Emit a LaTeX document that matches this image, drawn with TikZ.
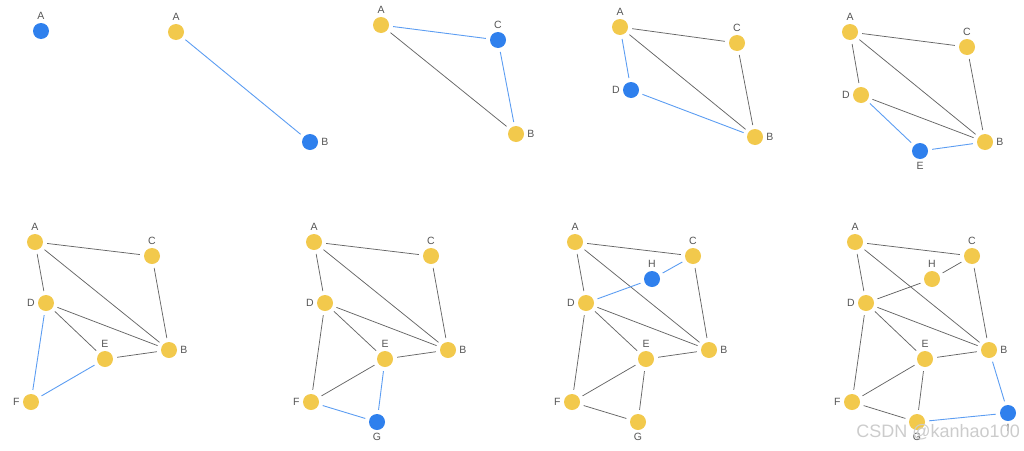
\documentclass[tikz,border=0pt]{standalone}
\usepackage{fontspec}
\setmainfont{Liberation Sans}
\definecolor{visited}{HTML}{F2C94C}
\definecolor{current}{HTML}{2F80ED}
\definecolor{newedge}{HTML}{5C9DF2}
\definecolor{oldedge}{HTML}{666666}
\definecolor{labelgray}{HTML}{555555}
\begin{document}
\begin{tikzpicture}[x=1pt,y=-1pt,
  vis/.style={circle,fill=visited,minimum size=16pt,inner sep=0pt},
  cur/.style={circle,fill=current,minimum size=16pt,inner sep=0pt},
  old/.style={draw=oldedge,line width=0.75pt,shorten <=4pt,shorten >=4pt},
  new/.style={draw=newedge,line width=0.9pt,shorten <=4pt,shorten >=4pt},
  every label/.style={text=labelgray,font=\fontsize{10.5}{11}\selectfont,inner sep=0.5pt},
  label distance=2.5pt]
\useasboundingbox (0,0) rectangle (1024,450);

\node[cur,label=above:A] (a1) at (41,31) {};

\begin{scope}[shift={(176,32)}]
\node[vis,label=above:A] (a2) at (0,0) {};
\node[cur,label=right:B] (b2) at (134,110) {};
\draw[new] (a2) -- (b2);
\end{scope}

\begin{scope}[shift={(381,25)}]
\node[vis,label=above:A] (a3) at (0,0) {};
\node[cur,label=above:C] (c3) at (117,15) {};
\node[vis,label=right:B] (b3) at (135,109) {};
\draw[old] (a3) -- (b3);
\draw[new] (a3) -- (c3);
\draw[new] (c3) -- (b3);
\end{scope}

\begin{scope}[shift={(620,27)}]
\node[vis,label=above:A] (a4) at (0,0) {};
\node[vis,label=above:C] (c4) at (117,16) {};
\node[cur,label=left:D] (d4) at (11,63) {};
\node[vis,label=right:B] (b4) at (135,110) {};
\draw[old] (a4) -- (c4);
\draw[old] (a4) -- (b4);
\draw[old] (c4) -- (b4);
\draw[new] (a4) -- (d4);
\draw[new] (d4) -- (b4);
\end{scope}

\begin{scope}[shift={(850,32)}]
\node[vis,label=above:A] (a5) at (0,0) {};
\node[vis,label=above:C] (c5) at (117,15) {};
\node[vis,label=left:D] (d5) at (11,63) {};
\node[vis,label=right:B] (b5) at (135,110) {};
\node[cur,label=below:E] (e5) at (70,119) {};
\draw[old] (a5) -- (c5);
\draw[old] (a5) -- (b5);
\draw[old] (c5) -- (b5);
\draw[old] (a5) -- (d5);
\draw[old] (d5) -- (b5);
\draw[new] (d5) -- (e5);
\draw[new] (e5) -- (b5);
\end{scope}

\begin{scope}[shift={(35,242)}]
\node[vis,label=above:A] (a6) at (0,0) {};
\node[vis,label=above:C] (c6) at (117,14) {};
\node[vis,label=left:D] (d6) at (11,61) {};
\node[vis,label=right:B] (b6) at (134,108) {};
\node[vis,label=above:E] (e6) at (70,117) {};
\node[vis,label=left:F] (f6) at (-4,160) {};
\draw[old] (a6) -- (c6);
\draw[old] (a6) -- (b6);
\draw[old] (c6) -- (b6);
\draw[old] (a6) -- (d6);
\draw[old] (d6) -- (b6);
\draw[old] (d6) -- (e6);
\draw[old] (e6) -- (b6);
\draw[new] (d6) -- (f6);
\draw[new] (e6) -- (f6);
\end{scope}

\begin{scope}[shift={(314,242)}]
\node[vis,label=above:A] (a7) at (0,0) {};
\node[vis,label=above:C] (c7) at (117,14) {};
\node[vis,label=left:D] (d7) at (11,61) {};
\node[vis,label=right:B] (b7) at (134,108) {};
\node[vis,label=above:E] (e7) at (71,117) {};
\node[vis,label=left:F] (f7) at (-3,160) {};
\node[cur,label=below:G] (g7) at (63,180) {};
\draw[old] (a7) -- (c7);
\draw[old] (a7) -- (b7);
\draw[old] (c7) -- (b7);
\draw[old] (a7) -- (d7);
\draw[old] (d7) -- (b7);
\draw[old] (d7) -- (e7);
\draw[old] (e7) -- (b7);
\draw[old] (d7) -- (f7);
\draw[old] (e7) -- (f7);
\draw[new] (f7) -- (g7);
\draw[new] (e7) -- (g7);
\end{scope}

\begin{scope}[shift={(575,242)}]
\node[vis,label=above:A] (a8) at (0,0) {};
\node[vis,label=above:C] (c8) at (118,14) {};
\node[cur,label=above:H] (h8) at (77,37) {};
\node[vis,label=left:D] (d8) at (11,61) {};
\node[vis,label=right:B] (b8) at (134,108) {};
\node[vis,label=above:E] (e8) at (71,117) {};
\node[vis,label=left:F] (f8) at (-3,160) {};
\node[vis,label=below:G] (g8) at (63,180) {};
\draw[old] (a8) -- (c8);
\draw[old] (a8) -- (b8);
\draw[old] (c8) -- (b8);
\draw[old] (a8) -- (d8);
\draw[old] (d8) -- (b8);
\draw[old] (d8) -- (e8);
\draw[old] (e8) -- (b8);
\draw[old] (d8) -- (f8);
\draw[old] (e8) -- (f8);
\draw[old] (f8) -- (g8);
\draw[old] (e8) -- (g8);
\draw[new] (d8) -- (h8);
\draw[new] (h8) -- (c8);
\end{scope}

\begin{scope}[shift={(855,242)}]
\node[vis,label=above:A] (a9) at (0,0) {};
\node[vis,label=above:C] (c9) at (117,14) {};
\node[vis,label=above:H] (h9) at (77,37) {};
\node[vis,label=left:D] (d9) at (11,61) {};
\node[vis,label=right:B] (b9) at (134,108) {};
\node[vis,label=above:E] (e9) at (70,117) {};
\node[vis,label=left:F] (f9) at (-3,160) {};
\node[vis,label=below:G] (g9) at (62,180) {};
\node[cur,label=below:I] (i9) at (153,171) {};
\draw[old] (a9) -- (c9);
\draw[old] (a9) -- (b9);
\draw[old] (c9) -- (b9);
\draw[old] (a9) -- (d9);
\draw[old] (d9) -- (b9);
\draw[old] (d9) -- (e9);
\draw[old] (e9) -- (b9);
\draw[old] (d9) -- (f9);
\draw[old] (e9) -- (f9);
\draw[old] (f9) -- (g9);
\draw[old] (e9) -- (g9);
\draw[old] (d9) -- (h9);
\draw[old] (h9) -- (c9);
\draw[new] (b9) -- (i9);
\draw[new] (g9) -- (i9);
\end{scope}

\node[text=gray!40,font=\fontsize{18}{18}\selectfont,anchor=east,inner sep=0pt] (mark) at (1020,432) {CSDN @kanhao100};
\end{tikzpicture}
\end{document}
